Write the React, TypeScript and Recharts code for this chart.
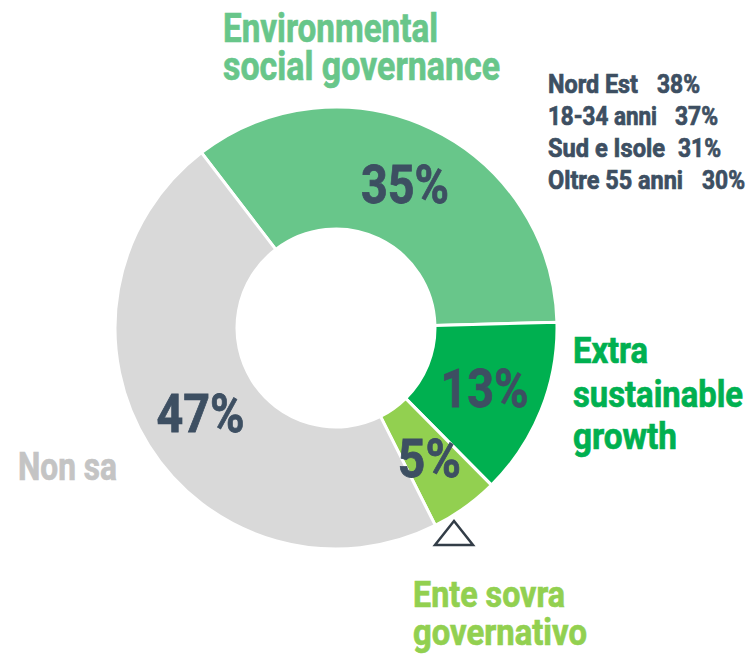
import React from 'react';
import { PieChart, Pie, Cell, Customized } from 'recharts';

const categories = ['Environmental social governance', 'Extra sustainable growth', 'Ente sovra governativo', 'Non sa'];
const shares = [35, 13, 5, 47];
const sliceColors = ['#68c68a', '#00b050', '#92d050', '#d9d9d9'];

const breakdownLabels = ['Nord Est', '18-34 anni', 'Sud e Isole', 'Oltre 55 anni'];
const breakdownValues = [38, 37, 31, 30];

// layout only: widths / x of the condensed text in the breakdown list
const labelWidths = [90, 109, 117, 135];
const valueX = [657, 675, 678, 702];

const FONT = 'Roboto, "DejaVu Sans Condensed", sans-serif';
const DARK = '#3d4f62';

const data = categories.map((name, i) => ({ name, value: shares[i] }));

const RAD = Math.PI / 180;

// narrow text: squeeze to the given width to mimic a condensed face
const T = ({ x, y, w, size, fill, children }: any) => (
  <text
    x={x}
    y={y}
    fontSize={size}
    fill={fill}
    stroke={fill}
    strokeWidth={0.7}
    fontFamily={FONT}
    fontWeight="bold"
    textLength={w}
    lengthAdjust="spacingAndGlyphs"
  >
    {children}
  </text>
);

const renderPct = (props: any) => {
  const { cx, cy, midAngle, innerRadius, outerRadius, value } = props;
  const r = (innerRadius + outerRadius) / 2;
  const x = cx + r * Math.cos(-midAngle * RAD);
  const y = cy + r * Math.sin(-midAngle * RAD);
  const label = `${value}%`;
  const w = label.length === 3 ? 88 : 63;
  return (
    <text
      x={x - w / 2}
      y={y + 19}
      fill={DARK}
      stroke={DARK}
      strokeWidth={0.8}
      fontFamily={FONT}
      fontWeight="bold"
      fontSize={53}
      textLength={w}
      lengthAdjust="spacingAndGlyphs"
    >
      {label}
    </text>
  );
};

// category titles drawn around the ring
const Titles = () => (
  <g>
    <T x={223} y={42} w={215} size={41} fill="#68c68a">Environmental</T>
    <T x={223} y={80} w={277} size={41} fill="#68c68a">social governance</T>

    {breakdownLabels.map((l, i) => (
      <g key={l}>
        <T x={548} y={93 + i * 32} w={labelWidths[i]} size={25} fill={DARK}>{l}</T>
        <T x={valueX[i]} y={93 + i * 32} w={43} size={25} fill={DARK}>{breakdownValues[i]}%</T>
      </g>
    ))}

    <T x={573} y={363} w={75} size={36} fill="#00b050">Extra</T>
    <T x={573} y={407} w={170} size={36} fill="#00b050">sustainable</T>
    <T x={573} y={449} w={104} size={36} fill="#00b050">growth</T>

    <T x={18} y={480} w={99} size={39} fill="#c4c4c4">Non sa</T>

    <T x={413} y={607} w={152} size={36} fill="#92d050">Ente sovra</T>
    <T x={413} y={645} w={174} size={36} fill="#92d050">governativo</T>

    <polygon points="454,521 435,545 473,545" fill="none" stroke="#333d47" strokeWidth={2.5} />
  </g>
);

export default function App() {
  return (
    <div style={{ position: 'absolute', left: 0, top: 0, width: 750, height: 657, background: '#fff' }}>
      <PieChart width={750} height={657} margin={{ top: 0, right: 0, bottom: 0, left: 0 }}>
        <Pie
          data={data}
          dataKey="value"
          cx={336}
          cy={328}
          innerRadius={99}
          outerRadius={221}
          startAngle={127.5}
          endAngle={-232.5}
          stroke="#ffffff"
          strokeWidth={3}
          label={renderPct}
          labelLine={false}
          isAnimationActive={false}
        >
          {data.map((d, i) => (
            <Cell key={d.name} fill={sliceColors[i]} />
          ))}
        </Pie>
        <Customized component={Titles} />
      </PieChart>
    </div>
  );
}
